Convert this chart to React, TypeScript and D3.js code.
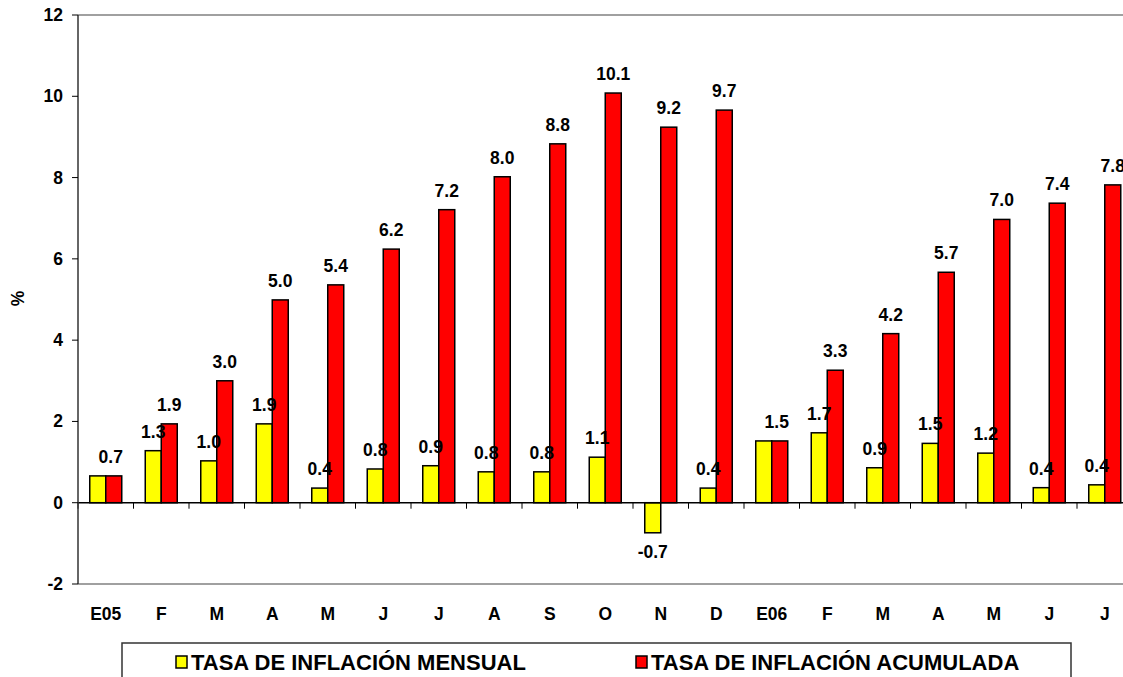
import React from "react";
import * as d3 from "d3";

// Monthly and cumulative inflation, January 2005 – July 2006
const categories = ["E05", "F", "M", "A", "M", "J", "J", "A", "S", "O", "N", "D", "E06", "F", "M", "A", "M", "J", "J"];
const mensual = [0.66, 1.28, 1.03, 1.94, 0.36, 0.83, 0.91, 0.76, 0.76, 1.12, -0.74, 0.36, 1.52, 1.72, 0.86, 1.46, 1.22, 0.37, 0.44];
const acumulada = [0.66, 1.94, 3.0, 4.99, 5.36, 6.24, 7.21, 8.02, 8.83, 10.08, 9.24, 9.66, 1.52, 3.26, 4.16, 5.67, 6.97, 7.37, 7.82];
const yTicks = [-2, 0, 2, 4, 6, 8, 10, 12];
const seriesNames = ["TASA DE INFLACIÓN MENSUAL", "TASA DE INFLACIÓN ACUMULADA"];

const W = 1123;
const H = 677;
const FONT = "'Liberation Sans', Arial, Helvetica, sans-serif";
const FS = 17.5;

// one decimal with a plain hyphen for negatives
const fmt = (v: number) => v.toFixed(1);

export default function App() {
  const left = 78;
  const top = 15;
  const bottom = 584;
  const bandW = 55.5;
  const right = left + bandW * categories.length;

  const x = d3.scaleBand<number>().domain(d3.range(categories.length)).range([left, right]).padding(0);
  const y = d3.scaleLinear().domain([-2, 12]).range([bottom, top]);
  const barW = 16;
  const y0 = y(0);

  const labelFor = (v: number, cx: number, key: string) => {
    const yy = v >= 0 ? y(v) - 13 : y(v) + 25;
    return (
      <text key={key} x={cx} y={yy} textAnchor="middle" fontSize={FS} fontWeight="bold" fontFamily={FONT} fill="#000">
        {fmt(v)}
      </text>
    );
  };

  return (
    <svg width={W} height={H} style={{ position: "absolute", left: 0, top: 0, background: "#fff" }}>
      {/* frame lines */}
      <line x1={left} x2={W} y1={y(12)} y2={y(12)} stroke="#808080" strokeWidth={1.5} />
      <line x1={left} x2={W} y1={y(-2)} y2={y(-2)} stroke="#808080" strokeWidth={1.5} />

      {/* bars */}
      {categories.map((_, i) => {
        const cx = (x(i) as number) + bandW / 2;
        const m = mensual[i];
        const a = acumulada[i];
        return (
          <g key={"b" + i}>
            <rect x={cx - barW} y={Math.min(y(m), y0)} width={barW} height={Math.abs(y(m) - y0)} fill="#FFFF00" stroke="#000" strokeWidth={1.5} />
            <rect x={cx} y={Math.min(y(a), y0)} width={barW} height={Math.abs(y(a) - y0)} fill="#FF0000" stroke="#000" strokeWidth={1.5} />
          </g>
        );
      })}

      {/* zero axis with category ticks */}
      <line x1={left} x2={W} y1={y0} y2={y0} stroke="#000" strokeWidth={1.5} />
      {categories.map((_, i) => (
        <line key={"t" + i} x1={x(i) as number} x2={x(i) as number} y1={y0} y2={y0 + 6} stroke="#000" strokeWidth={1} />
      ))}

      {/* y axis */}
      <line x1={left} x2={left} y1={top} y2={bottom} stroke="#333" strokeWidth={1.5} />
      {yTicks.map((t) => (
        <g key={"y" + t}>
          <line x1={left - 6} x2={left} y1={y(t)} y2={y(t)} stroke="#000" strokeWidth={1} />
          <text x={63} y={y(t) + 6} textAnchor="end" fontSize={FS} fontWeight="bold" fontFamily={FONT}>
            {t}
          </text>
        </g>
      ))}
      <text transform={`translate(24,${(top + bottom) / 2 - 1}) rotate(-90)`} textAnchor="middle" fontSize={FS} fontWeight="bold" fontFamily={FONT}>
        %
      </text>

      {/* data labels */}
      {categories.map((_, i) => {
        const cx = (x(i) as number) + bandW / 2;
        const m = mensual[i];
        const a = acumulada[i];
        const same = fmt(m) === fmt(a);
        return (
          <g key={"l" + i}>
            {!same && labelFor(m, cx - barW / 2, "m" + i)}
            {labelFor(a, same ? cx + 5 : cx + barW / 2, "a" + i)}
          </g>
        );
      })}

      {/* category labels */}
      {categories.map((c, i) => (
        <text key={"c" + i} x={(x(i) as number) + bandW / 2} y={620} textAnchor="middle" fontSize={FS} fontWeight="bold" fontFamily={FONT}>
          {c}
        </text>
      ))}

      {/* legend */}
      <rect x={122} y={643} width={949} height={60} fill="#fff" stroke="#333" strokeWidth={1.5} />
      <rect x={176} y={656} width={11} height={12} fill="#FFFF00" stroke="#000" strokeWidth={1.5} />
      <text x={191} y={670} fontSize={22} fontWeight="bold" fontFamily={FONT}>
        {seriesNames[0]}
      </text>
      <rect x={636} y={656} width={11} height={12} fill="#FF0000" stroke="#000" strokeWidth={1.5} />
      <text x={651} y={670} fontSize={22} fontWeight="bold" fontFamily={FONT}>
        {seriesNames[1]}
      </text>
    </svg>
  );
}
